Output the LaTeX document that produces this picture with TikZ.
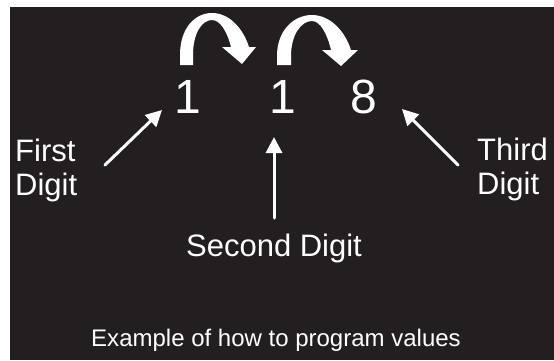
\documentclass[tikz,border=0pt]{standalone}
\usepackage{fontspec}
\setmainfont{Liberation Sans}
\usepackage{xcolor}
\usetikzlibrary{arrows.meta}
\definecolor{panel}{HTML}{231F20}

\tikzset{
  digit/.style={text=white, anchor=base, inner sep=0pt, font=\fontsize{48bp}{50bp}\selectfont},
  label/.style={text=white, inner sep=0pt, align=left, font=\fontsize{31bp}{34bp}\selectfont},
  pointer/.style={white, line width=3bp, -{Triangle[length=16bp,width=16bp]}},
  hop/.style={fill=white, draw=none}
}

\begin{document}
\begin{tikzpicture}[x=1bp, y=-1bp, line cap=round, line join=round]
  \useasboundingbox (0,0) rectangle (554,360);
  %--- background
    \fill[white] (0,0) rectangle (554,360);
    \fill[panel] (10,7) rectangle (554,360);
  %--- digits
    \node[digit] (d1) at (188,113) {1};
    \node[digit] (d2) at (283,113) {1};
    \node[digit] (d3) at (364,113) {8};
  %--- labels (base = last line)
    \node[label, anchor=base west] (first) at (15,195) {First\\Digit};
    \node[label, anchor=base west] (third) at (477,194) {Third\\Digit};
    \node[label, anchor=base] (second) at (274,256) {Second Digit};
    \node[text=white, anchor=base, inner sep=0pt, font=\fontsize{24bp}{26bp}\selectfont] (caption) at (276,346) {Example of how to program values};
  % pointers
    \coordinate (p1) at (105,165);  \coordinate (t1) at (162,110);
    \coordinate (p2) at (274,218);  \coordinate (t2) at (274,137);
    \coordinate (p3) at (458,165);  \coordinate (t3) at (402,109);
    \draw[pointer] (p1) -- (t1);
    \draw[pointer] (p2) -- (t2);
    \draw[pointer] (p3) -- (t3);
  % hop from first to second digit
    \fill[hop] (180,65) -- (180,55) .. controls (180,28) and (195,13) .. (212,13)
      .. controls (229,13) and (243,28) .. (249,47) -- (256,47) -- (242,64) -- (222,47) -- (231,47)
      .. controls (227,31) and (220,20) .. (212,20)
      .. controls (202,20) and (193,33) .. (193,55) -- (193,65) -- cycle;
  % hop from second to third digit
    \fill[hop] (277,65) -- (277,56) .. controls (277,30) and (294,15) .. (312,15)
      .. controls (330,15) and (345,31) .. (351,50) -- (358,50) -- (341,66) -- (322,50) -- (331,50)
      .. controls (327,33) and (320,21) .. (312,21)
      .. controls (301,21) and (291,35) .. (291,56) -- (291,65) -- cycle;
\end{tikzpicture}
\end{document}
